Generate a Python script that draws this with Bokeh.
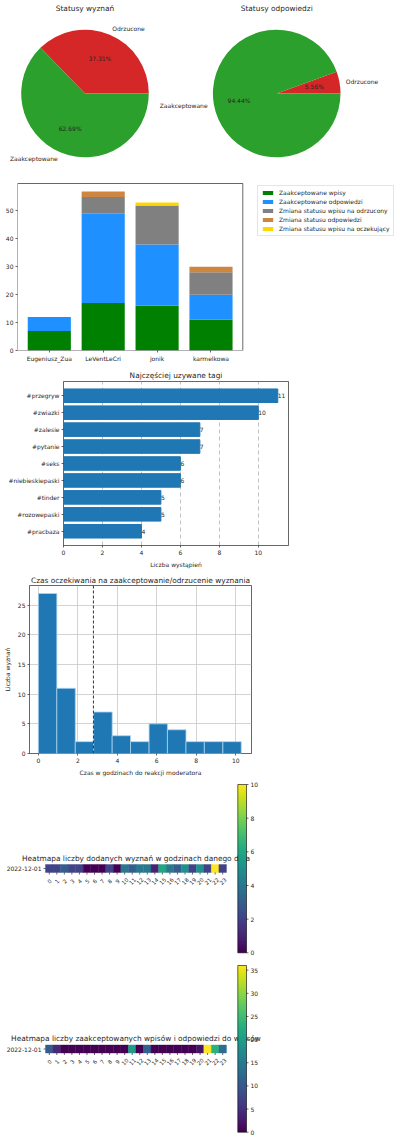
import math
import numpy as np
from bokeh.plotting import figure
from bokeh.layouts import column
from bokeh.models import (Range1d, FixedTicker, ColumnDataSource, Legend, LegendItem,
                          LinearColorMapper, Span)
from bokeh.palettes import Viridis256
from bokeh.core.properties import value
from bokeh.embed import file_html
from bokeh.resources import INLINE

FONT = "DejaVu Sans"
INK = "#262626"
TITLE_SIZE = "7.4px"
LABEL_SIZE = "6px"

# ---------------- data ----------------
status_labels = ["Odrzucone", "Zaakceptowane"]
status_colors = ["#d62728", "#2ca02c"]
confession_status_counts = [25, 42]
answer_status_counts = [4, 68]

users = ["Eugeniusz_Zua", "LeVentLeCri", "jonik", "karmelkowa"]
accepted_posts = [7, 17, 16, 11]
accepted_answers = [5, 32, 22, 9]
posts_rejected = [0, 6, 14, 8]
answer_status_changes = [0, 2, 0, 2]
posts_pending = [0, 0, 1, 0]
activity_labels = ["Zaakceptowane wpisy", "Zaakceptowane odpowiedzi",
                   "Zmiana statusu wpisu na odrzucony", "Zmiana statusu odpowiedzi",
                   "Zmiana statusu wpisu na oczekujący"]
activity_colors = ["green", "dodgerblue", "gray", "peru", "gold"]

tags = ["#przegryw", "#zwiazki", "#zalesie", "#pytanie", "#seks",
        "#niebieskiepaski", "#tinder", "#rozowepaski", "#pracbaza"]
tag_counts = [11, 10, 7, 7, 6, 6, 5, 5, 4]

wait_bin_edges = [0.0, 0.935, 1.87, 2.80, 3.74, 4.67, 5.61, 6.54, 7.48, 8.41, 9.35, 10.28]
wait_counts = [27, 11, 2, 7, 3, 2, 5, 4, 2, 2, 2]
wait_mean = 2.79

heat_day = "2022-12-01"
hours = list(range(24))
added_per_hour = [2, 2, 3, 2, 2, 0, 0, 0, 2, 0, 4, 3, 4, 4, 1, 6, 4, 3, 5, 2, 5, 2, 10, 2]
accepted_per_hour = [10, 4, 0, 0, 0, 0, 0, 0, 0, 0, 0, 20, 0, 11, 0, 0, 0, 0, 0, 0, 2, 36, 23, 13]

W = 400


def style_axes(p):
    for ax in p.axis:
        ax.axis_line_color = None
        ax.major_tick_line_color = "black"
        ax.major_tick_line_width = 0.6
        ax.major_tick_out = 2
        ax.major_tick_in = 0
        ax.minor_tick_line_color = None
        ax.major_label_text_font = FONT
        ax.major_label_text_font_size = LABEL_SIZE
        ax.major_label_text_color = INK
        ax.major_label_standoff = 2
        ax.axis_label_text_font = FONT
        ax.axis_label_text_font_size = LABEL_SIZE
        ax.axis_label_text_font_style = "normal"
        ax.axis_label_text_color = INK
        ax.axis_label_standoff = 3
    p.outline_line_color = "black"
    p.outline_line_width = 0.6


def style_title(p, text, standoff=2, valign="bottom"):
    p.title.text = text
    p.title.align = "center"
    p.title.vertical_align = valign
    p.title.text_font = FONT
    p.title.text_font_size = TITLE_SIZE
    p.title.text_font_style = "normal"
    p.title.text_color = INK
    p.title.standoff = standoff


def make_fig(height, **kw):
    return figure(width=W, height=height, output_backend="svg", toolbar_location=None,
                  frame_align=False, **kw)


# ---------------- section A: pies (1 data unit = 1 px) ----------------
HA = 170
pA = make_fig(HA, x_range=Range1d(0, W), y_range=Range1d(0, HA),
              x_axis_location=None, y_axis_location=None, min_border=0)
pA.grid.visible = False
pA.outline_line_color = None
PIE_R = 63.8
for title, counts, cx, cy in [("Statusy wyznań", confession_status_counts, 84.5, 93),
                              ("Statusy odpowiedzi", answer_status_counts, 276.2, 93)]:
    total = sum(counts)
    starts, ends, mids = [], [], []
    acc = 0.0
    for c in counts:
        a = 2 * math.pi * c / total
        starts.append(acc)
        ends.append(acc + a)
        mids.append(acc + a / 2)
        acc += a
    yc = HA - cy
    src = ColumnDataSource(dict(
        start=starts, end=ends, color=status_colors,
        lx=[cx + 1.1 * PIE_R * math.cos(m) for m in mids],
        ly=[yc + 1.1 * PIE_R * math.sin(m) for m in mids],
        px=[cx + 0.6 * PIE_R * math.cos(m) for m in mids],
        py=[yc + 0.6 * PIE_R * math.sin(m) for m in mids],
        label=status_labels,
        align=["left" if math.cos(m) > 0 else "right" for m in mids],
        pct=["%.2f%%" % (100.0 * c / total) for c in counts]))
    pA.wedge(x=cx, y=yc, radius=PIE_R, start_angle="start", end_angle="end",
             fill_color="color", line_color=None, source=src)
    pA.text(x="lx", y="ly", text="label", text_align="align", text_baseline="middle",
            text_font=value(FONT), text_font_size=LABEL_SIZE, text_color=INK, source=src)
    pA.text(x="px", y="py", text="pct", text_align="center", text_baseline="middle",
            text_font=value(FONT), text_font_size=LABEL_SIZE, text_color=INK, source=src)
    pA.text(x=[cx], y=[HA - 8], text=[title], text_align="center", text_baseline="middle",
            text_font=value(FONT), text_font_size=TITLE_SIZE, text_color=INK)

# ---------------- section B: stacked bars ----------------
# the plotting frame reaches the right edge so that the legend can sit beside the axes box;
# the axes box itself is drawn at the axis limits
B_LEFT, B_TOP, B_BOTTOM = 17, 12, 20
XLIM_B = (-0.59, 3.59)
YLIM_B = (0, 59.85)
bx_ppu = 225.3 / (XLIM_B[1] - XLIM_B[0])
by_ppu = 167.0 / (YLIM_B[1] - YLIM_B[0])
frame_w_B = W - B_LEFT
frame_h_B = 200 - B_TOP - B_BOTTOM
pB = make_fig(200, x_range=Range1d(XLIM_B[0], XLIM_B[0] + frame_w_B / bx_ppu),
              y_range=Range1d(YLIM_B[0], YLIM_B[0] + frame_h_B / by_ppu),
              min_border_left=B_LEFT, min_border_right=0, min_border_top=B_TOP,
              min_border_bottom=B_BOTTOM)
keys = ["accepted_posts", "accepted_answers", "posts_rejected", "answer_status_changes", "posts_pending"]
srcB = ColumnDataSource(dict(x=list(range(len(users))), accepted_posts=accepted_posts,
                             accepted_answers=accepted_answers, posts_rejected=posts_rejected,
                             answer_status_changes=answer_status_changes, posts_pending=posts_pending))
rends = pB.vbar_stack(keys, x="x", width=0.8, fill_color=activity_colors, line_color=None,
                      source=srcB)
pB.quad(left=[XLIM_B[0]], right=[XLIM_B[1]], bottom=[YLIM_B[0]], top=[YLIM_B[1]],
        fill_color=None, line_color="black", line_width=0.6)
pB.grid.visible = False
style_axes(pB)
pB.outline_line_color = None
pB.xaxis.ticker = FixedTicker(ticks=list(range(len(users))))
pB.xaxis.major_label_overrides = {i: u for i, u in enumerate(users)}
pB.yaxis.ticker = FixedTicker(ticks=[0, 10, 20, 30, 40, 50])
# legend anchored by its bottom-left corner (pixels from the frame's bottom-left)
legend = Legend(items=[LegendItem(label=l, renderers=[r]) for l, r in zip(activity_labels, rends)],
                location=(240, 114), orientation="vertical",
                glyph_width=13, glyph_height=5, label_height=5, label_standoff=5,
                spacing=2, padding=3, margin=0,
                label_text_font=FONT, label_text_font_size=LABEL_SIZE, label_text_color=INK,
                border_line_color="#cccccc", border_line_width=0.8,
                background_fill_color="white", background_fill_alpha=0.8)
pB.add_layout(legend)

# ---------------- section C: tags ----------------
pC = make_fig(200, x_range=Range1d(0, 11.55), y_range=Range1d(-0.84, 8.84),
              min_border_left=63, min_border_right=112, min_border_top=10, min_border_bottom=23)
tag_y = [len(tags) - 1 - i for i in range(len(tags))]
srcC = ColumnDataSource(dict(y=tag_y, v=tag_counts, t=[str(c) for c in tag_counts]))
pC.hbar(y="y", right="v", left=0, height=0.8, color="#1f77b4", source=srcC)
pC.text(x="v", y="y", text="t", text_align="left", text_baseline="middle",
        text_font=value(FONT), text_font_size=LABEL_SIZE, text_color=INK, source=srcC)
style_axes(pC)
style_title(pC, "Najczęściej uzywane tagi", 0, "top")
pC.ygrid.visible = False
pC.xgrid.grid_line_dash = "4 3"
pC.xgrid.grid_line_color = "#999999"
pC.xgrid.grid_line_width = 0.6
pC.xaxis.ticker = FixedTicker(ticks=[0, 2, 4, 6, 8, 10])
pC.yaxis.ticker = FixedTicker(ticks=tag_y)
pC.yaxis.major_label_overrides = {y: t for y, t in zip(tag_y, tags)}
pC.xaxis.axis_label = "Liczba wystąpień"

# ---------------- section D: histogram ----------------
pD = make_fig(210, x_range=Range1d(-0.45, 10.8), y_range=Range1d(0, 28.35),
              min_border_left=28, min_border_right=149, min_border_top=15, min_border_bottom=27)
pD.quad(left=wait_bin_edges[:-1], right=wait_bin_edges[1:], bottom=0, top=wait_counts,
        fill_color="#1f77b4", line_color="#a9d3f0", line_width=0.8)
pD.add_layout(Span(location=wait_mean, dimension="height", line_color="#333333",
                   line_dash="3 2", line_width=1))
style_axes(pD)
style_title(pD, "Czas oczekiwania na zaakceptowanie/odrzucenie wyznania", 2)
pD.grid.grid_line_color = "#c8c8c8"
pD.grid.grid_line_width = 0.8
pD.xaxis.ticker = FixedTicker(ticks=[0, 2, 4, 6, 8, 10])
pD.yaxis.ticker = FixedTicker(ticks=[0, 5, 10, 15, 20, 25])
pD.xaxis.axis_label = "Czas w godzinach do reakcji moderatora"
pD.yaxis.axis_label = "Liczba wyznań"
pD.yaxis.axis_label_standoff = 4


# ---------------- sections E, F: heatmaps with colour bars ----------------
CELL_W = 7.54
CELL_H = 8.0
HEAT_LEFT = 45
CB_LEFT = 237.3
CB_WIDTH = 8.7


def heatmap_figure(title, counts, high, cb_ticks, height, row_center, title_y, cb_top, cb_bottom):
    # main ranges: one unit = one heatmap cell; extra range "cb" = colour scale
    ppu = (cb_bottom - cb_top) / high
    p = make_fig(height,
                 x_range=Range1d(-0.5 - HEAT_LEFT / CELL_W, -0.5 + (W - HEAT_LEFT) / CELL_W),
                 y_range=Range1d(-(height - row_center) / CELL_H, row_center / CELL_H),
                 x_axis_location=None, y_axis_location=None, min_border=0)
    p.extra_y_ranges = {"cb": Range1d(-(height - cb_bottom) / ppu, high + cb_top / ppu)}
    p.grid.visible = False
    p.outline_line_color = None
    mapper = LinearColorMapper(palette=Viridis256, low=0, high=high)
    src = ColumnDataSource(dict(h=hours, v=counts, lab=[str(h) for h in hours]))
    p.rect(x="h", y=0, width=1, height=1, source=src,
           fill_color={"field": "v", "transform": mapper},
           line_color={"field": "v", "transform": mapper}, line_width=0.4)
    # hour ticks and rotated labels under the row
    p.segment(x0="h", y0=-0.5, x1="h", y1=-0.5 - 2 / CELL_H, line_color="black",
              line_width=0.6, source=src)
    p.text(x="h", y=-0.5 - 8.5 / CELL_H, text="lab", angle=math.pi / 4,
           text_align="center", text_baseline="middle", text_font=value(FONT),
           text_font_size="5.5px", text_color=INK, source=src)
    # day label with its tick on the left
    p.segment(x0=[-0.5], y0=[0], x1=[-0.5 - 2 / CELL_W], y1=[0], line_color="black",
              line_width=0.6)
    p.text(x=[-0.5 - 4 / CELL_W], y=[0], text=[heat_day], text_align="right",
           text_baseline="middle", text_font=value(FONT), text_font_size=LABEL_SIZE,
           text_color=INK)
    # title
    p.text(x=[(len(hours) - 1) / 2], y=[(row_center - title_y) / CELL_H], text=[title],
           text_align="center", text_baseline="middle", text_font=value(FONT),
           text_font_size=TITLE_SIZE, text_color=INK)
    # colour bar, drawn over the title
    cb_x0 = -0.5 + (CB_LEFT - HEAT_LEFT) / CELL_W
    cb_w = CB_WIDTH / CELL_W
    ramp = np.linspace(0, high, 256).reshape(256, 1)
    p.image(image=[ramp], x=cb_x0, y=0, dw=cb_w, dh=high, color_mapper=mapper,
            y_range_name="cb")
    p.quad(left=[cb_x0], right=[cb_x0 + cb_w], bottom=[0], top=[high], fill_color=None,
           line_color="black", line_width=0.6, y_range_name="cb")
    tsrc = ColumnDataSource(dict(t=cb_ticks, lab=[str(t) for t in cb_ticks]))
    p.segment(x0=cb_x0 + cb_w, y0="t", x1=cb_x0 + cb_w + 2 / CELL_W, y1="t",
              line_color="black", line_width=0.6, source=tsrc, y_range_name="cb")
    p.text(x=cb_x0 + cb_w + 4 / CELL_W, y="t", text="lab", text_align="left",
           text_baseline="middle", text_font=value(FONT), text_font_size=LABEL_SIZE,
           text_color=INK, source=tsrc, y_range_name="cb")
    return p


pE = heatmap_figure("Heatmapa liczby dodanych wyznań w godzinach danego dnia",
                    added_per_hour, 10, [0, 2, 4, 6, 8, 10], 177, 88, 78, 4, 172.3)
pF = heatmap_figure("Heatmapa liczby zaakceptowanych wpisów i odpowiedzi do wpisów",
                    accepted_per_hour, 36, [0, 5, 10, 15, 20, 25, 30, 35], 184, 91.5, 81, 8, 174.7)

layout = column(pA, pB, pC, pD, pE, pF)

open("out.html", "w").write(file_html(layout, INLINE))
